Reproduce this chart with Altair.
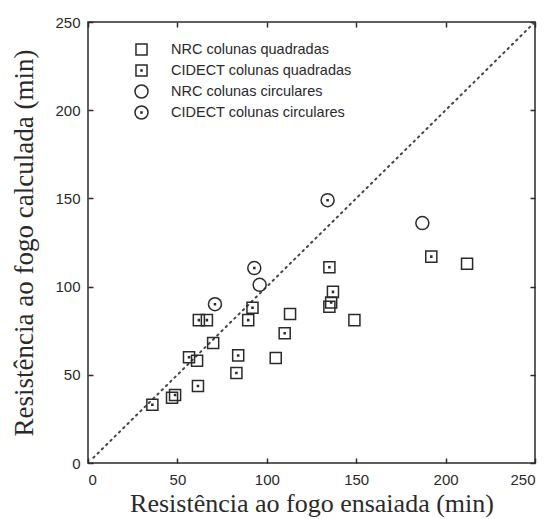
import altair as alt
import pandas as pd

# ---- data ----
nrc_sq_x = [47, 61, 70, 105, 113, 135, 149, 212]
nrc_sq_y = [37, 58, 68, 59.5, 84.5, 88.6, 81, 113]

cid_sq_x = [36, 48.7, 56.5, 61.5, 62, 66.5, 83, 84, 89.6, 92, 110, 135, 137, 136, 192]
cid_sq_y = [33, 38.5, 60, 43.6, 81, 81, 51, 61, 81, 88, 73.6, 111, 97, 91, 117]

nrc_ci_x = [96, 187]
nrc_ci_y = [101, 136]

cid_ci_x = [71, 93, 134]
cid_ci_y = [90, 110.5, 149]

series = ["NRC colunas quadradas", "CIDECT colunas quadradas",
          "NRC colunas circulares", "CIDECT colunas circulares"]

line_x = [3, 250]
line_y = [3, 250]

ticks = [0, 50, 100, 150, 200, 250]

rows = []
for name, xs, ys in zip(series,
                        [nrc_sq_x, cid_sq_x, nrc_ci_x, cid_ci_x],
                        [nrc_sq_y, cid_sq_y, nrc_ci_y, cid_ci_y]):
    for a, b in zip(xs, ys):
        rows.append({"x": a, "y": b, "serie": name})
pts = pd.DataFrame(rows)
line_df = pd.DataFrame({"x": line_x, "y": line_y})

# custom symbols (unit box -1..1)
sq = "M-0.85,-0.85H0.85V0.85H-0.85Z"
dot_sq = "M-0.08,-0.08H0.08V0.08H-0.08Z"
ci = "M-1,0A1,1 0 1,0 1,0A1,1 0 1,0 -1,0Z"
shapes = [sq, sq + dot_sq, ci, ci + dot_sq]

xs = alt.Scale(domain=[0, 250], nice=False, zero=False)
ys = alt.Scale(domain=[0, 250], nice=False, zero=False)

ink = "#2a2a2a"
sans = "Liberation Sans"
serif = "Liberation Serif"

common = dict(values=ticks, grid=False, domain=False, tickColor=ink, tickWidth=1.5,
              tickSize=5, offset=-5)

line = alt.Chart(line_df).mark_line(
    color="#444", strokeWidth=2, strokeDash=[1.5, 4.5], strokeCap="round"
).encode(
    x=alt.X("x:Q", scale=xs, axis=alt.Axis(orient="top", labels=False, title=None, **common)),
    y=alt.Y("y:Q", scale=ys, axis=alt.Axis(orient="right", labels=False, title=None, **common)),
)

points = alt.Chart(pts).mark_point(
    filled=False, size=169, strokeWidth=1.5, color=ink, opacity=1
).encode(
    x=alt.X("x:Q", scale=xs, axis=alt.Axis(
        orient="bottom", title="Resistência ao fogo ensaiada (min)",
        labelFont=sans, labelFontSize=15, labelColor=ink, labelPadding=9,
        titleFont=serif, titleFontSize=26, titleFontWeight="normal", titleColor=ink,
        titlePadding=3, **common)),
    y=alt.Y("y:Q", scale=ys, axis=alt.Axis(
        orient="left", title="Resistência ao fogo calculada (min)",
        labelFont=sans, labelFontSize=15, labelColor=ink, labelPadding=8,
        titleFont=serif, titleFontSize=27, titleFontWeight="normal", titleColor=ink,
        titlePadding=16, **common)),
    shape=alt.Shape("serie:N", scale=alt.Scale(domain=series, range=shapes),
                    legend=alt.Legend(
                        title=None, orient="none", legendX=46, legendY=20,
                        labelFont=sans, labelFontSize=14.5, labelColor=ink, labelLimit=0,
                        symbolSize=169, symbolStrokeWidth=1.5,
                        symbolStrokeColor=ink, symbolFillColor="white",
                        labelOffset=22, rowPadding=2)),
)

chart = alt.layer(line, points).resolve_axis(
    x="independent", y="independent"
).properties(
    width=447, height=441,
    padding={"left": 88, "top": 22, "right": 14, "bottom": 56},
    autosize=alt.AutoSizeParams(type="none"),
    background="white",
).configure_view(stroke=ink, strokeWidth=1.5)

chart.save("out.html", embed_options={"renderer": "svg", "actions": False})
